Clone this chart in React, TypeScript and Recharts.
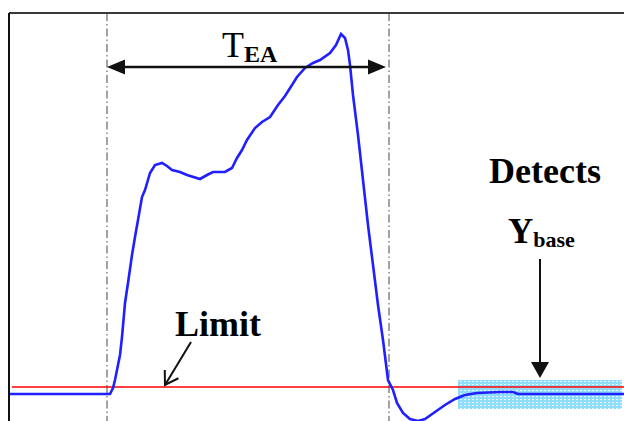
import { ComposedChart, Line, XAxis, YAxis, ReferenceLine, ReferenceArea, ReferenceDot } from 'recharts';

// trace: sample index and signal level above the resting baseline
const time = [
  1, 101, 104, 106, 111, 113, 116, 119, 123, 126, 129, 133, 136, 141, 146, 153, 158, 163, 171, 178,
  191, 198, 204, 216, 223, 228, 233, 238, 246, 253, 261, 269, 276, 283, 288, 296, 304, 311, 321, 327,
  332, 336, 339, 341, 344, 349, 354, 359, 364, 369, 374, 379, 384, 388, 394, 401, 409, 416, 426, 436,
  446, 456, 468, 491, 504, 509, 551, 615,
];
const signal = [
  0, 0, 6, 14, 39, 57, 91, 111, 139, 157, 174, 197, 204, 221, 229, 231, 228, 224, 222, 219,
  215, 219, 222, 222, 226, 236, 244, 254, 266, 272, 277, 289, 298, 309, 317, 326, 331, 334, 341, 349,
  360, 356, 344, 329, 299, 259, 214, 169, 129, 89, 54, 14, 4, -9, -19, -25, -27, -25, -18, -11,
  -5, -1, 1, 2, 2, 0, 0, 0,
];

// annotation values
const limitLevel = 7;
const limitFrom = 3;
const windowStart = 98;
const windowEnd = 380;
const spanLevel = 327;
const spanEnd = 377;
const bandFrom = 449;
const bandTo = 613;
const bandLow = -15;
const bandHigh = 14;
const baseArrowX = 531;
const baseArrowTop = 135;
const baseArrowTip = 16;
const limitArrowStart = [182, 52];
const limitArrowTip = [156, 9];

// label anchors [x, y] and texts
const teaLabel = ['T', 'EA'];
const teaPos = [213, 337];
const detectsLabel = 'Detects';
const detectsPos = [480, 211];
const ybaseLabel = ['Y', 'base'];
const ybasePos = [499, 151];
const limitLabel = 'Limit';
const limitPos = [166, 58];

const data = time.map((t, i) => ({ t, v: signal[i] }));

const FONT = '"Liberation Serif", "Times New Roman", serif';

const headPoints = (x: number, y: number, a: number, len: number, half: number) => {
  const bx = x - len * Math.cos(a);
  const by = y - len * Math.sin(a);
  const px = half * Math.sin(a);
  const py = -half * Math.cos(a);
  return `${x},${y} ${bx + px},${by + py} ${bx - px},${by - py}`;
};

const DoubleArrow = (props: any) => {
  const { x1, y1, x2, y2 } = props;
  const a = Math.atan2(y2 - y1, x2 - x1);
  return (
    <g>
      <line x1={x1 + 10} y1={y1} x2={x2 - 10} y2={y2} stroke="#111" strokeWidth={2.5} />
      <polygon points={headPoints(x2, y2, a, 18, 7.5)} fill="#111" />
      <polygon points={headPoints(x1, y1, a + Math.PI, 18, 7.5)} fill="#111" />
    </g>
  );
};

const DownArrow = (props: any) => {
  const { x1, y1, x2, y2 } = props;
  const a = Math.atan2(y2 - y1, x2 - x1);
  return (
    <g>
      <line x1={x1} y1={y1} x2={x2} y2={y2 - 8} stroke="#111" strokeWidth={2} />
      <polygon points={headPoints(x2, y2, a, 16, 9)} fill="#111" />
    </g>
  );
};

const OpenArrow = (props: any) => {
  const { x1, y1, x2, y2 } = props;
  const a = Math.atan2(y1 - y2, x1 - x2);
  const w = 0.56;
  return (
    <g stroke="#111" strokeWidth={2} fill="none">
      <line x1={x1} y1={y1} x2={x2} y2={y2} />
      <polyline
        points={`${x2 + 15 * Math.cos(a + w)},${y2 + 15 * Math.sin(a + w)} ${x2},${y2} ${x2 + 15 * Math.cos(a - w)},${y2 + 15 * Math.sin(a - w)}`}
      />
    </g>
  );
};

const DottedBand = (props: any) => {
  const { x, y, width, height } = props;
  return (
    <g>
      <defs>
        <pattern id="baseDots" width={4} height={3} patternUnits="userSpaceOnUse">
          <rect width={4} height={3} fill="#8fdcfb" />
          <rect x={0} y={0} width={2} height={1} fill="#e8f8ff" />
        </pattern>
      </defs>
      <rect x={x} y={y} width={width} height={height} fill="url(#baseDots)" />
    </g>
  );
};

const textShape = (main: string, sub: string | null, size: number, weight: string, subSize: number, dy: number) =>
  (props: any) => (
    <text x={props.cx} y={props.cy} fontFamily={FONT} fontSize={size} fontWeight={weight} fill="#000">
      <tspan>{main}</tspan>
      {sub && (
        <tspan fontSize={subSize} dy={dy} fontWeight="bold">
          {sub}
        </tspan>
      )}
    </text>
  );

export default function App() {
  return (
    <div style={{ position: 'absolute', left: 0, top: 0, width: 624, height: 421, background: '#fff' }}>
      <ComposedChart width={624} height={421} data={data} margin={{ top: 12, right: 0, bottom: 0, left: 8 }}>
        <XAxis
          dataKey="t"
          type="number"
          domain={[0, 615]}
          allowDataOverflow
          orientation="top"
          height={1}
          tick={false}
          tickLine={false}
          axisLine={{ stroke: '#3a3a3a', strokeWidth: 2 }}
        />
        <YAxis
          type="number"
          domain={[-27, 381]}
          allowDataOverflow
          width={1}
          tick={false}
          tickLine={false}
          axisLine={{ stroke: '#111', strokeWidth: 2 }}
        />
        <ReferenceArea x1={bandFrom} x2={bandTo} y1={bandLow} y2={bandHigh} shape={DottedBand} />
        <ReferenceLine x={windowStart} stroke="#8c8c8c" strokeWidth={1.6} strokeDasharray="8 3 1.5 3" />
        <ReferenceLine x={windowEnd} stroke="#8c8c8c" strokeWidth={1.6} strokeDasharray="8 3 1.5 3" />
        <ReferenceLine
          segment={[
            { x: limitFrom, y: limitLevel },
            { x: 615, y: limitLevel },
          ]}
          stroke="#ff0000"
          strokeWidth={1.3}
        />
        <Line
          dataKey="v"
          type="linear"
          stroke="#1f1fff"
          strokeWidth={2.6}
          dot={false}
          activeDot={false}
          isAnimationActive={false}
        />
        <ReferenceLine
          segment={[
            { x: windowStart, y: spanLevel },
            { x: spanEnd, y: spanLevel },
          ]}
          shape={DoubleArrow}
        />
        <ReferenceLine
          segment={[
            { x: baseArrowX, y: baseArrowTop },
            { x: baseArrowX, y: baseArrowTip },
          ]}
          shape={DownArrow}
        />
        <ReferenceLine
          segment={[
            { x: limitArrowStart[0], y: limitArrowStart[1] },
            { x: limitArrowTip[0], y: limitArrowTip[1] },
          ]}
          shape={OpenArrow}
        />
        <ReferenceDot x={teaPos[0]} y={teaPos[1]} r={0} shape={textShape(teaLabel[0], teaLabel[1], 36, 'normal', 24, 5)} />
        <ReferenceDot x={detectsPos[0]} y={detectsPos[1]} r={0} shape={textShape(detectsLabel, null, 36, 'bold', 0, 0)} />
        <ReferenceDot x={ybasePos[0]} y={ybasePos[1]} r={0} shape={textShape(ybaseLabel[0], ybaseLabel[1], 35, 'bold', 22, 4)} />
        <ReferenceDot x={limitPos[0]} y={limitPos[1]} r={0} shape={textShape(limitLabel, null, 36, 'bold', 0, 0)} />
      </ComposedChart>
    </div>
  );
}
